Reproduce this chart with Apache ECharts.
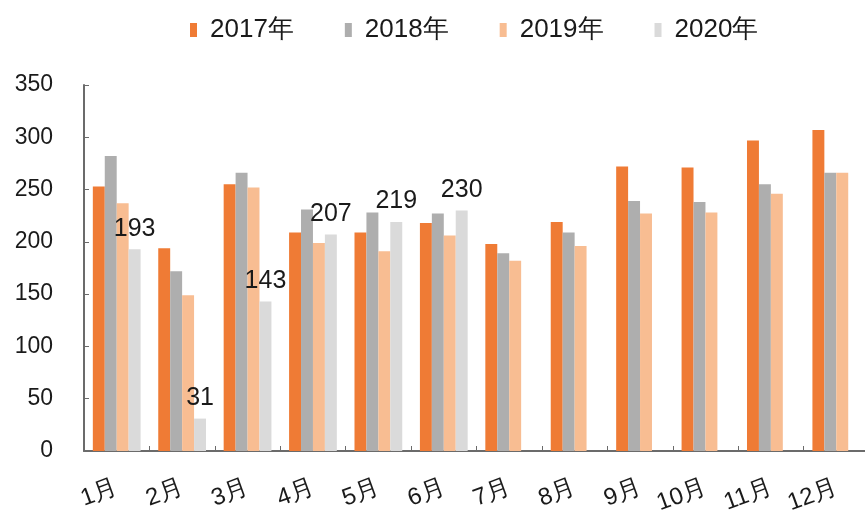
<!DOCTYPE html>
<html>
<head>
<meta charset="utf-8">
<script src="https://cdn.jsdelivr.net/npm/echarts@6/dist/echarts.min.js"></script>
<style>
  html, body { margin: 0; padding: 0; background: #fff; }
  #chart { width: 865px; height: 513px; }
</style>
</head>
<body>
<div id="chart"></div>
<script>
var months = ['1月', '2月', '3月', '4月', '5月', '6月', '7月', '8月', '9月', '10月', '11月', '12月'];
var years = ['2017年', '2018年', '2019年', '2020年'];
var v2017 = [253, 194, 255, 209, 209, 218, 198, 219, 272, 271, 297, 307];
var v2018 = [282, 172, 266, 231, 228, 227, 189, 209, 239, 238, 255, 266];
var v2019 = [237, 149, 252, 199, 191, 206, 182, 196, 227, 228, 246, 266];
var v2020 = [193, 31, 143, 207, 219, 230, null, null, null, null, null, null];
var yTicks = [0, 50, 100, 150, 200, 250, 300, 350];

var colors = ['#EF7B35', '#AEAEAE', '#F8BD92', '#DADADA'];
var font = 'Liberation Sans, Arial, sans-serif';

var chart = echarts.init(document.getElementById('chart'));

var allData = [v2017, v2018, v2019, v2020];
var series = years.map(function (name, i) {
    var s = {
        name: name,
        type: 'bar',
        data: allData[i],
        barGap: '0%',
        barCategoryGap: '27%',
        itemStyle: { color: colors[i] },
        animation: false
    };
    if (i === 3) {
        // only the 2020 bars carry value labels
        s.label = {
            show: true,
            position: 'top',
            distance: 8,
            color: '#1a1a1a',
            fontSize: 25,
            fontFamily: font
        };
    }
    return s;
});

var option = {
    backgroundColor: '#fff',
    legend: {
        top: 12,
        left: 185,
        itemWidth: 7,
        itemHeight: 14,
        itemGap: 51,
        icon: 'rect',
        textStyle: { fontSize: 26, color: '#1a1a1a', fontFamily: font, padding: [0, 0, 0, 8] },
        data: years
    },
    grid: {
        left: 84,
        right: -4,
        top: 85,
        bottom: 62,
        containLabel: false,
        outerBoundsMode: 'none'
    },
    xAxis: {
        type: 'category',
        data: months,
        axisLine: { lineStyle: { color: '#6b6b6b', width: 2 } },
        axisTick: { show: true, inside: true, length: 5, lineStyle: { color: '#6b6b6b' } },
        axisLabel: {
            rotate: 20,
            margin: 36,
            fontSize: 24,
            color: '#1a1a1a',
            fontFamily: font,
            interval: 0
        }
    },
    yAxis: {
        type: 'value',
        min: yTicks[0],
        max: yTicks[yTicks.length - 1],
        interval: 50,
        axisLine: { show: true, lineStyle: { color: '#6b6b6b', width: 2 } },
        axisTick: { show: true, inside: true, length: 5, lineStyle: { color: '#6b6b6b' } },
        splitLine: { show: false },
        axisLabel: {
            margin: 31,
            fontSize: 23,
            color: '#1a1a1a',
            fontFamily: font
        }
    },
    series: series
};

chart.setOption(option);
</script>
</body>
</html>
